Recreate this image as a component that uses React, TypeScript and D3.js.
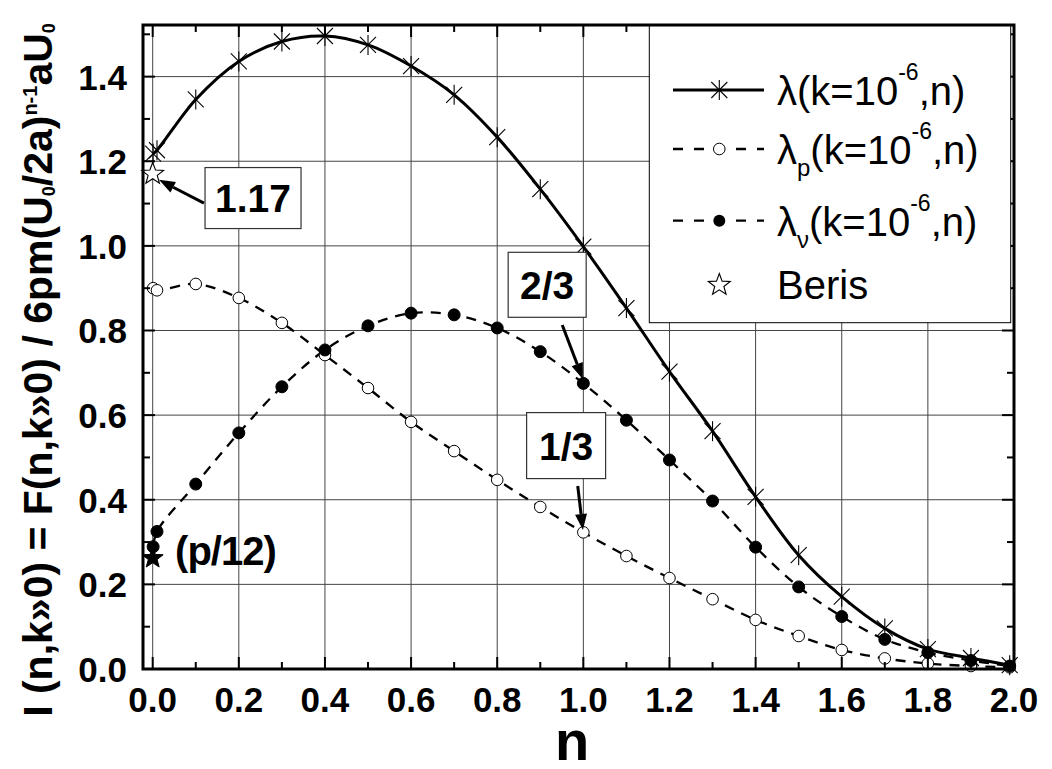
import React from 'react';
import * as d3 from 'd3';

// ---- Data ----
const nValues = [0.001, 0.01, 0.1, 0.2, 0.3, 0.4, 0.5, 0.6, 0.7, 0.8, 0.9, 1.0, 1.1, 1.2, 1.3, 1.4, 1.5, 1.6, 1.7, 1.8, 1.9, 1.99];
const lambdaVals = [1.218, 1.226, 1.346, 1.436, 1.483, 1.496, 1.475, 1.425, 1.357, 1.257, 1.134, 0.998, 0.853, 0.703, 0.562, 0.407, 0.269, 0.171, 0.096, 0.047, 0.026, 0.009];
const lambdaPVals = [0.900, 0.895, 0.910, 0.877, 0.818, 0.742, 0.664, 0.584, 0.515, 0.447, 0.383, 0.323, 0.267, 0.215, 0.165, 0.116, 0.078, 0.045, 0.025, 0.013, 0.007, 0.004];
const lambdaVVals = [0.289, 0.325, 0.437, 0.558, 0.667, 0.754, 0.811, 0.841, 0.837, 0.806, 0.750, 0.675, 0.588, 0.494, 0.397, 0.288, 0.194, 0.124, 0.070, 0.039, 0.020, 0.007];
const berisOpen = [{ n: 0, v: 1.17 }];
const berisFilled = [{ n: 0, v: 0.262 }];
const xTicks = [0, 0.2, 0.4, 0.6, 0.8, 1.0, 1.2, 1.4, 1.6, 1.8, 2.0];
const xMinor = [0.1, 0.3, 0.5, 0.7, 0.9, 1.1, 1.3, 1.5, 1.7, 1.9];
const yTicks = [0, 0.2, 0.4, 0.6, 0.8, 1.0, 1.2, 1.4];
const yMinor = [0.1, 0.3, 0.5, 0.7, 0.9, 1.1, 1.3, 1.5];

// annotations in data coordinates
const boxNotes = [
  { label: '1.17', n: 0.233, v: 1.113, w: 96, h: 61 },
  { label: '2/3', n: 0.916, v: 0.908, w: 78, h: 65 },
  { label: '1/3', n: 0.96, v: 0.528, w: 79, h: 66 },
];
const arrows = [
  { n0: 0.119, v0: 1.101, n1: 0.0146, v1: 1.156 },
  { n0: 0.951, v0: 0.813, n1: 0.999, v1: 0.685 },
  { n0: 0.987, v0: 0.4325, n1: 0.999, v1: 0.3285 },
];

const FONT = "'Liberation Sans', Arial, Helvetica, sans-serif";

function starPath(cx: number, cy: number, R: number, r: number) {
  const pts: string[] = [];
  for (let i = 0; i < 10; i++) {
    const a = -Math.PI / 2 + (i * Math.PI) / 5;
    const rad = i % 2 === 0 ? R : r;
    pts.push(`${cx + rad * Math.cos(a)},${cy + rad * Math.sin(a)}`);
  }
  return 'M' + pts.join('L') + 'Z';
}

function Asterisk({ cx, cy }: { cx: number; cy: number }) {
  return (
    <g stroke="#000" strokeWidth={1.1}>
      <line x1={cx} y1={cy - 10} x2={cx} y2={cy + 10} />
      <line x1={cx - 8} y1={cy - 8} x2={cx + 8} y2={cy + 8} />
      <line x1={cx - 8} y1={cy + 8} x2={cx + 8} y2={cy - 8} />
    </g>
  );
}

export default function App() {
  const W = 1052, H = 769;
  const x = d3.scaleLinear().domain([-0.0225, 2.0]).range([143, 1014]);
  const y = d3.scaleLinear().domain([0, 1.522]).range([669, 25]);
  const [x0, x1] = x.range();
  const [yb, yt] = y.range();

  const mk = (vals: number[]) => nValues.map((n, i) => [n, vals[i]] as [number, number]);
  const line = d3.line<[number, number]>()
    .x(d => x(d[0]))
    .y(d => y(d[1]))
    .curve(d3.curveCatmullRom.alpha(0.5));

  const lam = mk(lambdaVals);
  const lamP = mk(lambdaPVals);
  const lamV = mk(lambdaVVals);

  const fmt = d3.format('.1f');

  // legend layout
  const lg = { x: 649.3, y: 26, w: 361.4, h: 296.7, lx0: 673, lx1: 764, mx: 719.3, tx: 777 };
  const rows = [90, 149, 220.7, 285];

  return (
    <svg width={W} height={H} style={{ position: 'absolute', left: 0, top: 0, background: '#fff' }} fontFamily={FONT}>
      <rect x={0} y={0} width={W} height={H} fill="#fff" />
      <defs>
        <clipPath id="plotclip">
          <rect x={x0} y={yt} width={x1 - x0} height={yb - yt} />
        </clipPath>
      </defs>

      {/* grid */}
      <g stroke="#444" strokeWidth={1}>
        {xTicks.map(t => (
          <line key={'gx' + t} x1={x(t)} x2={x(t)} y1={yb} y2={yt} />
        ))}
        {yTicks.map(t => (
          <line key={'gy' + t} x1={x0} x2={x1} y1={y(t)} y2={y(t)} />
        ))}
      </g>

      {/* curves */}
      <g clipPath="url(#plotclip)" fill="none" stroke="#000">
        <path d={line(lamP) || ''} strokeWidth={2.3} strokeDasharray="10,8" />
        <path d={line(lamV) || ''} strokeWidth={2.3} strokeDasharray="10,8" />
        <path d={line(lam) || ''} strokeWidth={3} />
      </g>

      {/* markers */}
      <g>
        {lamP.map((d, i) => (
          <circle key={'p' + i} cx={x(d[0])} cy={y(d[1])} r={5.8} fill="#fff" stroke="#000" strokeWidth={1} />
        ))}
        {lamV.map((d, i) => (
          <circle key={'v' + i} cx={x(d[0])} cy={y(d[1])} r={6} fill="#000" stroke="#000" strokeWidth={1} />
        ))}
        {lam.map((d, i) => (
          <Asterisk key={'a' + i} cx={x(d[0])} cy={y(d[1])} />
        ))}
        {berisOpen.map((d, i) => (
          <path key={'bo' + i} d={starPath(x(d.n), y(d.v), 11.5, 4.8)} fill="#fff" stroke="#000" strokeWidth={1.1} />
        ))}
        {berisFilled.map((d, i) => (
          <path key={'bf' + i} d={starPath(x(d.n), y(d.v), 11, 4.6)} fill="#000" stroke="#000" strokeWidth={1} />
        ))}
      </g>

      {/* axes frame + ticks */}
      <g stroke="#000" strokeWidth={2}>
        {xTicks.map(t => (
          <g key={'xt' + t}>
            <line x1={x(t)} x2={x(t)} y1={yb} y2={yb - 12} />
            <line x1={x(t)} x2={x(t)} y1={yt} y2={yt + 12} />
          </g>
        ))}
        {xMinor.map(t => (
          <g key={'xm' + t}>
            <line x1={x(t)} x2={x(t)} y1={yb} y2={yb - 7} />
            <line x1={x(t)} x2={x(t)} y1={yt} y2={yt + 7} />
          </g>
        ))}
        {yTicks.map(t => (
          <g key={'yt' + t}>
            <line x1={x0} x2={x0 + 12} y1={y(t)} y2={y(t)} />
            <line x1={x1} x2={x1 - 12} y1={y(t)} y2={y(t)} />
          </g>
        ))}
        {yMinor.map(t => (
          <g key={'ym' + t}>
            <line x1={x0} x2={x0 + 7} y1={y(t)} y2={y(t)} />
            <line x1={x1} x2={x1 - 7} y1={y(t)} y2={y(t)} />
          </g>
        ))}
      </g>
      <rect x={x0} y={yt} width={x1 - x0} height={yb - yt} fill="none" stroke="#000" strokeWidth={3} />

      {/* tick labels */}
      <g fontWeight="bold" fontSize={35} fill="#000">
        {xTicks.map(t => (
          <text key={'xl' + t} x={x(t)} y={712} textAnchor="middle">{fmt(t)}</text>
        ))}
        {yTicks.map(t => (
          <text key={'yl' + t} x={127} y={y(t) + 13} textAnchor="end">{fmt(t)}</text>
        ))}
      </g>

      {/* axis titles */}
      <text x={572} y={760} textAnchor="middle" fontWeight="bold" fontSize={56}>n</text>
      <text transform="translate(52,370) rotate(-90)" textAnchor="middle" fontWeight="bold" fontSize={41}>
        I (n,k»0) = F(n,k»0) / 6pm(U<tspan fontSize={18} dy={3}>0</tspan>
        <tspan dy={-3}>/2a)</tspan>
        <tspan fontSize={20} dy={-15}>n-1</tspan>
        <tspan dy={15}>aU</tspan>
        <tspan fontSize={18} dy={3}>0</tspan>
      </text>

      {/* annotations */}
      <g>
        {arrows.map((a, i) => {
          const sx = x(a.n0), sy = y(a.v0), ex = x(a.n1), ey = y(a.v1);
          const ang = Math.atan2(ey - sy, ex - sx);
          const hl = 16, hw = 6;
          const bx = ex - hl * Math.cos(ang), by = ey - hl * Math.sin(ang);
          const p1 = [bx + hw * Math.sin(ang), by - hw * Math.cos(ang)];
          const p2 = [bx - hw * Math.sin(ang), by + hw * Math.cos(ang)];
          return (
            <g key={'ar' + i}>
              <line x1={sx} y1={sy} x2={bx} y2={by} stroke="#000" strokeWidth={3} />
              <path d={`M${ex},${ey}L${p1[0]},${p1[1]}L${p2[0]},${p2[1]}Z`} fill="#000" />
            </g>
          );
        })}
        {boxNotes.map((b, i) => (
          <g key={'bn' + i}>
            <rect x={x(b.n) - b.w / 2} y={y(b.v) - b.h / 2} width={b.w} height={b.h} fill="#fff" stroke="#333" strokeWidth={1.2} />
            <text x={x(b.n)} y={y(b.v) + 14} textAnchor="middle" fontWeight="bold" fontSize={39}>{b.label}</text>
          </g>
        ))}
        <text x={x(0.052)} y={y(0.262) + 7} fontWeight="bold" fontSize={40} letterSpacing={-1}>(p/12)</text>
      </g>

      {/* legend */}
      <g>
        <rect x={lg.x} y={lg.y} width={lg.w} height={lg.h} fill="#fff" stroke="#000" strokeWidth={1} />
        <line x1={lg.lx0} x2={lg.lx1} y1={rows[0]} y2={rows[0]} stroke="#000" strokeWidth={3} />
        <Asterisk cx={lg.mx} cy={rows[0]} />
        <line x1={lg.lx0} x2={lg.lx1} y1={rows[1]} y2={rows[1]} stroke="#000" strokeWidth={2.3} strokeDasharray="10,11" />
        <circle cx={lg.mx} cy={rows[1]} r={5.8} fill="#fff" stroke="#000" strokeWidth={1} />
        <line x1={lg.lx0} x2={lg.lx1} y1={rows[2]} y2={rows[2]} stroke="#000" strokeWidth={2.3} strokeDasharray="10,11" />
        <circle cx={lg.mx} cy={rows[2]} r={6} fill="#000" />
        <path d={starPath(lg.mx, rows[3], 11.5, 4.8)} fill="#fff" stroke="#000" strokeWidth={1.1} />
        <g fontSize={40} fill="#000">
          <text x={lg.tx} y={rows[0] + 15}>λ(k=10<tspan fontSize={23} dy={-25}>-6</tspan><tspan dy={25}>,n)</tspan></text>
          <text x={lg.tx} y={rows[1] + 15}>λ<tspan fontSize={24} dy={12}>p</tspan><tspan dy={-12}>(k=10</tspan><tspan fontSize={23} dy={-25}>-6</tspan><tspan dy={25}>,n)</tspan></text>
          <text x={lg.tx} y={rows[2] + 15}>λ<tspan fontSize={24} dy={12}>ν</tspan><tspan dy={-12}>(k=10</tspan><tspan fontSize={23} dy={-25}>-6</tspan><tspan dy={25}>,n)</tspan></text>
          <text x={lg.tx} y={rows[3] + 14}>Beris</text>
        </g>
      </g>
    </svg>
  );
}
